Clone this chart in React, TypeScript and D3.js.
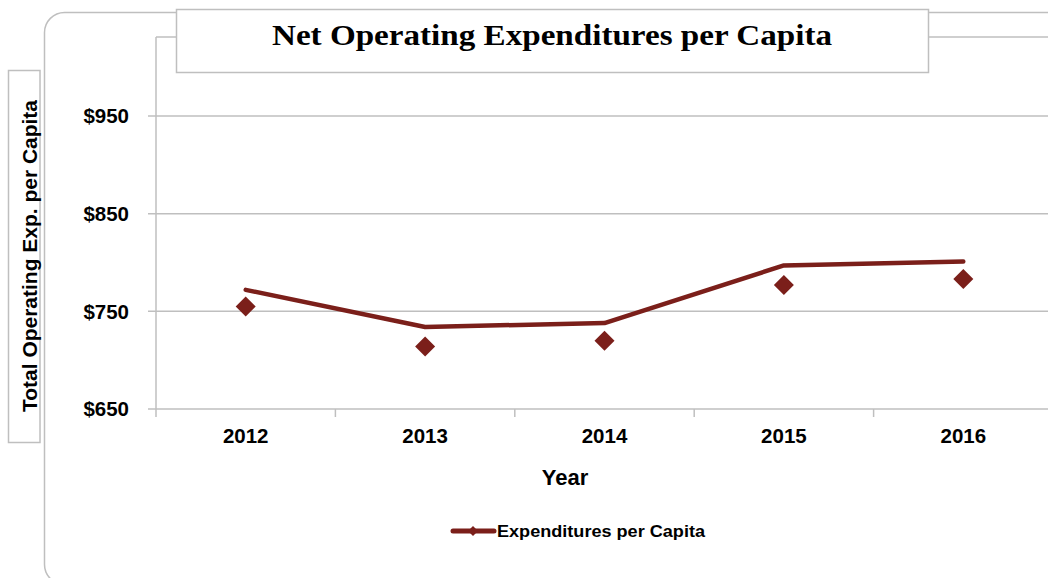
import React from 'react';
import * as d3 from 'd3';

// chart data
const years = ['2012', '2013', '2014', '2015', '2016'];
// the line and the markers are drawn at slightly different heights in the original
const lineValues = [772, 734, 738, 797, 801];
const markerValues = [755, 714, 720, 777, 783];
const yTicks = [650, 750, 850, 950];

const COLOR = '#7B1F1A';
const GRID = '#BFBFBF';
const SANS = '"Liberation Sans", Arial, sans-serif';
const SERIF = '"Liberation Serif", "DejaVu Serif", serif';

const W = 1048;
const H = 578;

export default function App() {
  const x = d3.scaleBand<string>()
    .domain(years)
    .range([156, 156 + 179.4 * years.length]);

  const y = d3.scaleLinear()
    .domain([650, 950])
    .range([409, 116]);

  const cx = (yr: string) => (x(yr) ?? 0) + x.bandwidth() / 2;

  const line = d3.line<number>()
    .x((_, i) => cx(years[i]))
    .y((d) => y(d));

  const diamond = d3.symbol(d3.symbolSquare, 200)();
  const smallDiamond = d3.symbol(d3.symbolSquare, 50)();

  const plotTop = 37;
  const plotLeft = x.range()[0];

  return (
    <svg
      width={W}
      height={H}
      style={{ position: 'absolute', left: 0, top: 0, background: '#fff' }}
    >
      {/* outer chart border (runs past the right and bottom edges) */}
      <rect x={44.5} y={12.5} width={1022} height={572} rx={20} fill="#fff" stroke={GRID} strokeWidth={1.5} />

      {/* plot frame: top and left */}
      <line x1={plotLeft} x2={W} y1={plotTop} y2={plotTop} stroke={GRID} strokeWidth={1.5} />
      <line x1={plotLeft} x2={plotLeft} y1={plotTop} y2={y(650)} stroke={GRID} strokeWidth={1.5} />

      {/* gridlines + y ticks */}
      {yTicks.map((t) => (
        <g key={t}>
          <line x1={plotLeft - 8} x2={W} y1={y(t)} y2={y(t)} stroke={GRID} strokeWidth={1.5} />
          <text
            x={129}
            y={y(t)}
            dy="0.36em"
            textAnchor="end"
            fontFamily={SANS}
            fontWeight="bold"
            fontSize={20.5}
            fill="#000"
          >
            ${t}
          </text>
        </g>
      ))}

      {/* x tick marks and labels */}
      {years.map((yr) => (
        <g key={yr}>
          <line x1={x(yr)} x2={x(yr)} y1={y(650)} y2={y(650) + 8} stroke={GRID} strokeWidth={1.5} />
          <text
            x={cx(yr)}
            y={443}
            textAnchor="middle"
            fontFamily={SANS}
            fontWeight="bold"
            fontSize={20.5}
            fill="#000"
          >
            {yr}
          </text>
        </g>
      ))}

      {/* series */}
      <path d={line(lineValues) ?? ''} fill="none" stroke={COLOR} strokeWidth={4.5} strokeLinecap="round" strokeLinejoin="round" />
      {markerValues.map((v, i) => (
        <path
          key={years[i]}
          d={diamond ?? ''}
          transform={`translate(${cx(years[i])},${y(v)}) rotate(45)`}
          fill={COLOR}
        />
      ))}

      {/* axis title */}
      <text x={565} y={485} textAnchor="middle" fontFamily={SANS} fontWeight="bold" fontSize={22} fill="#000">
        Year
      </text>

      {/* y axis title box */}
      <rect x={8.5} y={70.5} width={31.5} height={372} fill="#fff" stroke={GRID} strokeWidth={1.5} />
      <text
        transform="translate(37,256) rotate(-90)"
        textAnchor="middle"
        fontFamily={SANS}
        fontWeight="bold"
        fontSize={20.5}
        textLength={312}
        lengthAdjust="spacingAndGlyphs"
        fill="#000"
      >
        Total Operating Exp. per Capita
      </text>

      {/* title box */}
      <rect x={176.5} y={9.5} width={752} height={63} fill="#fff" stroke={GRID} strokeWidth={1.5} />
      <text
        x={552}
        y={45}
        textAnchor="middle"
        fontFamily={SERIF}
        fontWeight="bold"
        fontSize={30}
        textLength={560}
        lengthAdjust="spacingAndGlyphs"
        fill="#000"
      >
        Net Operating Expenditures per Capita
      </text>

      {/* legend */}
      <line x1={453} x2={494} y1={531} y2={531} stroke={COLOR} strokeWidth={5} strokeLinecap="round" />
      <path d={smallDiamond ?? ''} transform="translate(473,531) rotate(45)" fill={COLOR} />
      <text
        x={497}
        y={537}
        fontFamily={SANS}
        fontWeight="bold"
        fontSize={16.5}
        textLength={208}
        lengthAdjust="spacingAndGlyphs"
        fill="#000"
      >
        Expenditures per Capita
      </text>
    </svg>
  );
}
